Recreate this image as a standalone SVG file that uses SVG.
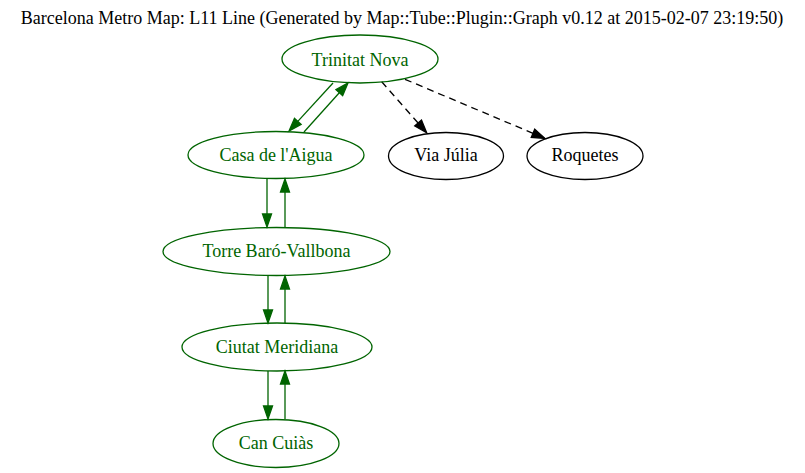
<svg xmlns="http://www.w3.org/2000/svg" width="805" height="473" viewBox="0 0 805 473">
<style>
text{font-family:"Liberation Serif","Times New Roman",serif;font-size:18px;text-anchor:middle}
.g ellipse{fill:none;stroke:#006400;stroke-width:1.3}
.g text{fill:#006400}
.k ellipse{fill:none;stroke:#000;stroke-width:1.3}
.k text{fill:#000}
.eg{fill:none;stroke:#006400;stroke-width:1.3;marker-end:url(#ag)}
.ek{fill:none;stroke:#000;stroke-width:1.3;stroke-dasharray:7,5;marker-end:url(#ak)}
</style>
<defs>
<marker id="ag" markerUnits="userSpaceOnUse" markerWidth="14" markerHeight="10" viewBox="0 -5 14 10" refX="0" refY="0" orient="auto" overflow="visible"><path d="M0,-4.5L13,0L0,4.5z" fill="#006400" stroke="#006400" stroke-width="1.3"/></marker>
<marker id="ak" markerUnits="userSpaceOnUse" markerWidth="14" markerHeight="10" viewBox="0 -5 14 10" refX="0" refY="0" orient="auto" overflow="visible"><path d="M0,-4.5L13,0L0,4.5z" fill="#000" stroke="#000" stroke-width="1.3"/></marker>
</defs>
<rect width="805" height="473" fill="#fff"/>
<text x="402" y="24">Barcelona Metro Map: L11 Line (Generated by Map::Tube::Plugin::Graph v0.12 at 2015-02-07 23:19:50)</text>
<g id="connectors">
<path class="eg" d="M333,83L297.8,121.4"/>
<path class="eg" d="M304,132L339.3,92.7"/>
<path class="eg" d="M267,179L267,214"/>
<path class="eg" d="M285,227L285,192"/>
<path class="eg" d="M268,276L268,310"/>
<path class="eg" d="M285,323L285,289"/>
<path class="eg" d="M268,371L268,406"/>
<path class="eg" d="M285,419L285,384"/>
<path class="ek" d="M381.7,81.7L418.1,123"/>
<path class="ek" d="M405,79.3L533,133.3"/>
</g>
<g id="trinitat-nova" class="g"><ellipse cx="360" cy="59" rx="78" ry="24"/><text x="360" y="65.5">Trinitat Nova</text></g>
<g id="casa-de-laigua" class="g"><ellipse cx="276" cy="155" rx="88" ry="23.5"/><text x="276" y="160.5">Casa de l'Aigua</text></g>
<g id="via-julia" class="k"><ellipse cx="446" cy="156" rx="57.5" ry="23.5"/><text x="446" y="161">Via Júlia</text></g>
<g id="roquetes" class="k"><ellipse cx="585" cy="156" rx="58" ry="23.5"/><text x="585" y="161">Roquetes</text></g>
<g id="torre-baro-vallbona" class="g"><ellipse cx="276.5" cy="251.5" rx="113.5" ry="24"/><text x="276.5" y="257">Torre Baró-Vallbona</text></g>
<g id="ciutat-meridiana" class="g"><ellipse cx="277" cy="347" rx="95" ry="24"/><text x="277" y="352.5">Ciutat Meridiana</text></g>
<g id="can-cuias" class="g"><ellipse cx="276" cy="443.5" rx="63" ry="24"/><text x="276" y="449">Can Cuiàs</text></g>
</svg>
